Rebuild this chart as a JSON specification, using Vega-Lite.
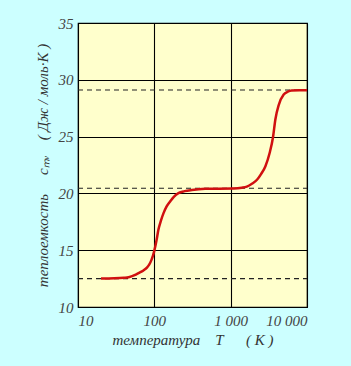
{
  "$schema": "https://vega.github.io/schema/vega-lite/v6.json",
  "width": 229,
  "height": 284,
  "autosize": {"type": "none"},
  "padding": {"left": 78, "top": 23, "right": 44, "bottom": 59},
  "background": "#ccffff",
  "config": {
    "view": {"fill": "#ffffcc", "stroke": "#000000", "strokeWidth": 1.2},
    "axis": {
      "domain": false,
      "ticks": false,
      "grid": true,
      "gridColor": "#000000",
      "gridOpacity": 1,
      "gridWidth": 1.1,
      "labelFont": "Liberation Serif",
      "labelFontStyle": "italic",
      "labelFontSize": 15,
      "labelColor": "#444444",
      "titleFont": "Liberation Serif",
      "titleFontStyle": "italic",
      "titleFontWeight": "normal",
      "titleFontSize": 15,
      "titleColor": "#333333"
    }
  },
  "datasets": {
    "curve": [
      {"T": 20, "c": 12.5}, {"T": 30, "c": 12.52}, {"T": 40, "c": 12.57}, {"T": 46, "c": 12.62},
      {"T": 55, "c": 12.8}, {"T": 62, "c": 12.98}, {"T": 72, "c": 13.22}, {"T": 80, "c": 13.47},
      {"T": 86, "c": 13.75}, {"T": 92, "c": 14.17}, {"T": 96, "c": 14.52}, {"T": 100, "c": 14.96},
      {"T": 107, "c": 15.9}, {"T": 113, "c": 16.8},
      {"T": 122, "c": 17.6}, {"T": 132, "c": 18.26}, {"T": 145, "c": 18.85}, {"T": 161, "c": 19.29},
      {"T": 180, "c": 19.7}, {"T": 207, "c": 20.03}, {"T": 250, "c": 20.2}, {"T": 310, "c": 20.3},
      {"T": 464, "c": 20.4}, {"T": 700, "c": 20.42}, {"T": 1100, "c": 20.43}, {"T": 1400, "c": 20.5},
      {"T": 1630, "c": 20.6}, {"T": 1900, "c": 20.85}, {"T": 2213, "c": 21.2}, {"T": 2500, "c": 21.7},
      {"T": 2845, "c": 22.37}, {"T": 3240, "c": 23.55}, {"T": 3590, "c": 24.96}, {"T": 3850, "c": 26.5},
      {"T": 4270, "c": 27.8}, {"T": 4950, "c": 28.7}, {"T": 5600, "c": 28.95}, {"T": 6300, "c": 29.05},
      {"T": 8000, "c": 29.08}, {"T": 10000, "c": 29.08}
    ],
    "levels": [
      {"T": 10, "c": 12.5, "g": "a"}, {"T": 10000, "c": 12.5, "g": "a"},
      {"T": 10, "c": 20.45, "g": "b"}, {"T": 10000, "c": 20.45, "g": "b"},
      {"T": 10, "c": 29.1, "g": "c"}, {"T": 10000, "c": 29.1, "g": "c"}
    ]
  },
  "layer": [
    {
      "data": {"name": "levels"},
      "mark": {"type": "line", "color": "#222222", "strokeWidth": 1.1, "strokeDash": [5, 4]},
      "encoding": {
        "x": {
          "field": "T", "type": "quantitative",
          "scale": {"type": "log", "domain": [10, 10000]},
          "axis": {
            "values": [10, 100, 1000, 10000],
            "labelExpr": "replace(format(datum.value, ','), ',', ' ')",
            "labelPadding": 6,
            "titlePadding": 4,
            "title": "температура\u00a0\u00a0\u00a0\u00a0T\u00a0\u00a0\u00a0\u00a0\u00a0\u00a0(\u00a0K\u00a0)"
          }
        },
        "y": {
          "field": "c", "type": "quantitative",
          "scale": {"domain": [10, 35], "nice": false, "zero": false},
          "axis": {
            "values": [10, 15, 20, 25, 30, 35],
            "labelPadding": 5,
            "titlePadding": 8,
            "title": "теплоемкость\u00a0\u00a0\u00a0\u00a0\u00a0cₘᵥ\u00a0\u00a0\u00a0\u00a0(\u00a0Дж / моль·K\u00a0)"
          }
        },
        "detail": {"field": "g"}
      }
    },
    {
      "data": {"name": "curve"},
      "mark": {"type": "line", "color": "#d01010", "strokeWidth": 2.5, "interpolate": "monotone"},
      "encoding": {
        "x": {"field": "T", "type": "quantitative"},
        "y": {"field": "c", "type": "quantitative"}
      }
    }
  ]
}
